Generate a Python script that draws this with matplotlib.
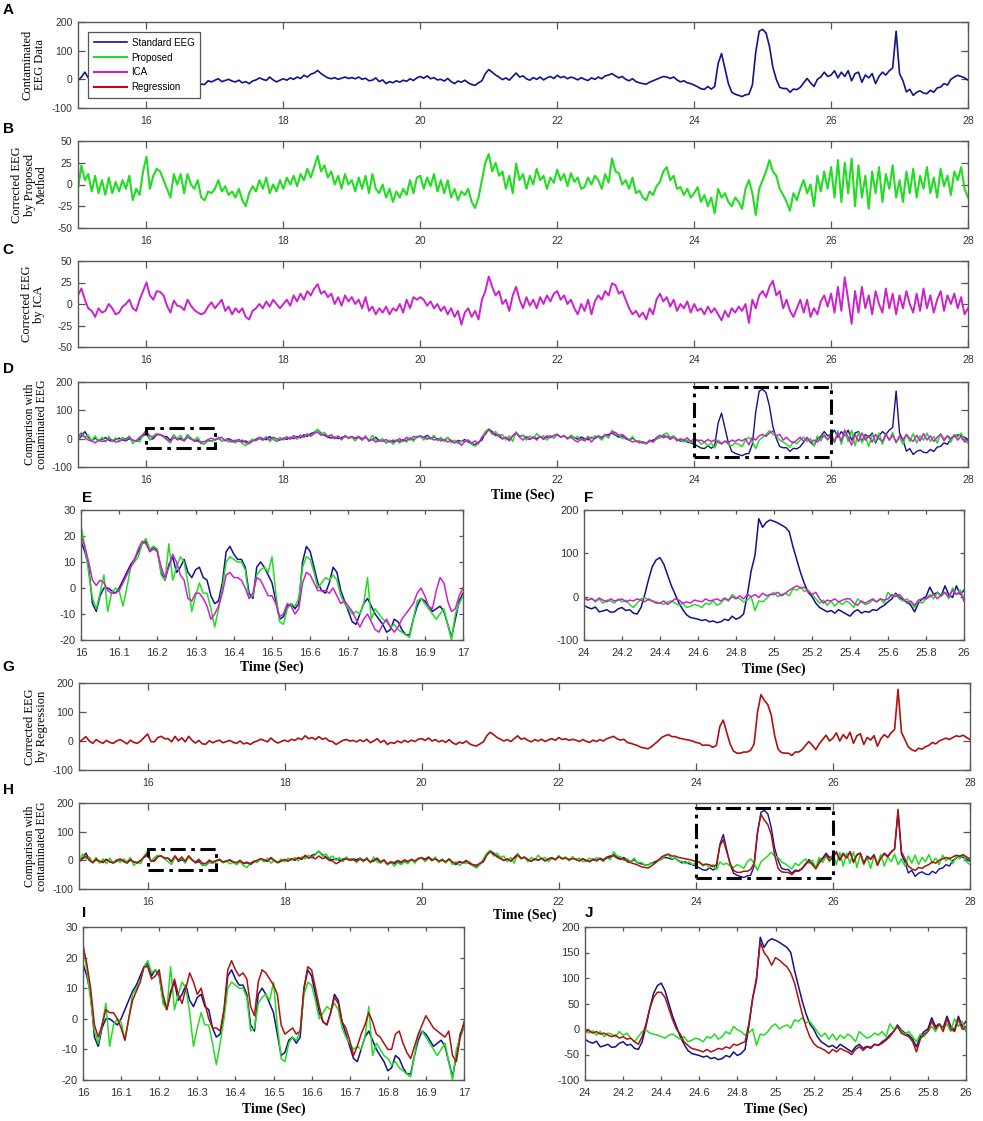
import numpy as np
import matplotlib.pyplot as plt
from matplotlib.patches import Rectangle

plt.rcParams['font.family'] = ['Liberation Sans', 'DejaVu Sans']
plt.rcParams['axes.unicode_minus'] = False

# ---- main traces, 15 s .. 28 s, one value every 0.05 s ----
t_main = np.round(np.arange(15, 28.001, 0.05), 2)

standard_eeg = [
    -3, 8, 25, 5, -8, 2, -6, -3, 4, -5, -10, -3, 2, -4, -8, 0, -6, -10, -2, 10,
    18, -3, 0, 14, 14, 6, 7, -6, 13, -4, 2, -6, 14, 2, -9, -4, -17, -18, -5, -9,
    -3, 2, -8, -4, 0, -6, -9, -3, -12, -8, -15, -6, -2, 5, 0, -4, 8, -2, -9, -3,
    2, -3, 5, 0, 8, 3, 14, 8, 18, 22, 31, 20, 12, 5, 2, 6, 0, 4, 8, 3,
    6, 2, 8, 0, 4, -5, -3, 5, -8, -2, -15, -8, -12, -5, -10, -3, -7, 2, -4, 5,
    10, 4, 12, 2, 6, -2, 0, -6, 3, -8, -15, -6, -10, -3, -12, -18, -21, -12, -5, 20,
    34, 25, 15, 8, -1, 5, -3, 10, 22, 8, 12, 2, -3, 6, 0, 8, -2, 5, 10, 3,
    14, 6, 10, 2, 8, 4, -2, 6, 0, -4, 5, 0, 8, 2, 12, 15, 20, 12, 5, 10,
    0, -5, 2, -8, -12, -15, -17, -10, -5, 0, 5, 10, 8, 3, 8, -2, -9, -5, -12, -15,
    -20, -26, -33, -35, -25, -34, -25, 55, 90, 38, -15, -45, -52, -56, -60, -54, -52, -20, 95, 168,
    174, 162, 115, 42, 0, -28, -32, -32, -45, -34, -36, -28, -12, 3, -12, -25, 0, 8, 25, 10,
    15, 30, 5, 25, 10, 30, -5, 20, 25, -10, 15, 5, 20, -15, 10, 25, 15, 30, 40, 168,
    20, -5, -44, -35, -56, -45, -40, -48, -50, -38, -45, -30, -27, -15, -20, 0, 8, 14, 10, 5,
    -3]

proposed = [
    -5, 22, 5, 12, -8, 10, -10, 5, -12, 8, -10, 3, -8, 5, -5, 10, -18, -5, -12, 15,
    32, -5, 10, 18, 15, 5, -5, -15, 12, 0, 12, -10, 12, 0, -5, 5, -15, -18, -8, -10,
    -5, 5, -8, -2, -12, -8, -15, -5, -18, -25, -10, -2, -8, 5, -5, 8, -10, 0, -8, 5,
    -5, 8, 0, 10, -2, 12, 5, 18, 8, 20, 33, 15, 22, 8, 15, 0, 10, -5, 12, 0,
    5, -8, 8, -5, 10, -10, 12, -5, -10, 0, -15, -5, -20, -8, -15, -5, -12, 5, -10, 8,
    10, -5, 8, -2, 12, -8, 5, -10, 5, -15, -5, -18, -8, -12, -5, -20, -27, -15, 5, 25,
    35, 15, 25, 10, 15, -5, 10, -10, 24, 5, 12, -5, 10, 0, 18, 5, 10, -5, 8, 2,
    17, 5, 12, -2, 13, 3, 8, -5, -3, 8, 0, 10, 5, -5, 12, 2, 30, 15, 13, 0,
    5, -5, 8, -10, -7, -15, -18, -8, -12, -2, 3, 15, 20, 5, 10, -5, -3, -12, -5, -15,
    -10, -3, -20, -12, -25, -15, -33, -5, -15, -10, -20, -25, -15, -20, -28, -5, 5, -10, -35, -5,
    5, 15, 28, 15, 10, -5, -12, -20, -30, -10, -18, -5, 5, -10, 0, -25, 10, -8, 15, -5,
    20, -15, 28, -20, 25, -10, 30, -25, 22, -15, 10, -28, 15, -10, 20, -20, 12, -5, 22, -15,
    5, -20, 15, -10, 18, -15, 10, -5, 20, -10, 8, -15, 18, -2, 10, -12, 15, 5, 20, -5,
    -15]

ica = [
    10, 18, 5, -5, -8, -15, -5, -10, -8, 0, -5, -12, -10, -3, 0, 5, -5, -8, 5, 15,
    25, 10, 5, 15, 14, 10, -2, -10, 4, -2, -3, -7, 5, -2, -7, -10, -12, -10, -3, 2,
    -5, 0, 5, -8, -3, -12, -5, -10, -5, -15, -18, -8, -5, 0, -5, 3, -3, 5, 0, -5,
    0, 5, -2, 10, 3, 12, 5, 15, 10, 18, 23, 12, 15, 8, 12, 0, 8, -2, 10, 3,
    8, 0, 5, -5, 8, -8, -3, -12, -5, -10, -3, -12, -5, -8, 0, -10, 5, -5, 8, 5,
    8, 5, -2, 3, -5, 0, -8, -3, -12, -5, -15, -8, -24, -10, -5, -15, -8, -18, 5, 15,
    32, 20, 10, 15, 0, 5, -8, 10, 20, 5, -5, 8, -2, 5, -5, 8, 0, 10, 3, 12,
    15, 5, 10, 0, 5, -5, -12, 0, -8, 5, -12, 3, 10, 5, 15, 10, 24, 22, 12, 15,
    5, -5, -12, -8, -15, -10, -18, -5, -12, 5, 12, 3, 8, -3, 5, -8, 0, -5, 3, -10,
    0, -8, -5, -12, -3, -10, -5, -12, -19, -8, -15, -5, -10, -3, -8, 0, -22, 5, -5, 10,
    15, 8, 20, 27, 10, 15, -5, 5, -8, -15, -5, 5, -10, 5, -15, -5, -12, 3, 10, -3,
    12, -10, 20, -8, 31, 5, -23, 15, -10, 20, -5, 10, -12, 15, 0, -10, 18, -5, 12, -12,
    10, -5, 15, 0, -10, 12, -8, 18, -5, 10, -10, 5, 15, -8, 10, 0, 12, -5, 8, -12,
    -5]

regression = [
    -5, 5, 15, 0, -8, 5, -3, -8, 2, -5, -8, 0, 5, -2, -10, 3, -5, -8, 0, 12,
    24, -2, -3, 12, 16, 8, 8, -3, 16, 1, 11, -3, 16, 2, -7, 2, -10, -11, 1, -6,
    -1, 3, -6, -2, 2, -5, -8, 0, -10, -6, -12, -4, 0, 6, 2, -3, 10, 0, -7, -2,
    3, -2, 6, 2, 10, 5, 18, 8, 12, 5, 15, 6, 10, 0, -2, -12, -5, 2, 5, 0,
    2, -3, 4, -2, 6, -6, 0, 8, -5, 2, -12, -5, -8, 0, -6, 2, -4, 3, -2, 6,
    8, 2, 10, 0, 5, -3, 2, -5, 5, -6, -12, -4, -8, 0, -10, -15, -17, -10, -3, 18,
    30, 22, 12, 6, 0, 5, -2, 8, 18, 6, 10, 2, -3, 5, 0, 6, -2, 4, 8, 2,
    12, 5, 8, 2, 6, 3, -2, 5, -1, -5, 3, -2, 5, 0, 8, 12, 16, 8, 3, 6,
    -5, -8, -12, -16, -22, -24, -27, -20, -10, 0, 12, 18, 22, 15, 15, 10, 8, 5, 3, 0,
    -5, -7, -15, -14, -15, -22, -15, 50, 72, 30, -10, -35, -42, -42, -38, -38, -32, -10, 100, 160,
    140, 125, 90, 18, -28, -40, -42, -42, -50, -38, -38, -30, -15, -2, -15, -30, -10, 5, 20, 0,
    10, 28, 0, 22, 8, 30, -8, 18, 25, -12, 12, 3, 18, -18, 8, 22, 12, 28, 40, 178,
    30, 5, -20, -30, -35, -25, -28, -20, -15, -5, -10, 0, 5, 10, 5, 12, 18, 15, 20, 12,
    5]

# ---- zoom 16 s .. 17 s, every 0.01 s ----
t_e = np.round(np.arange(16, 17.0001, 0.01), 2)
std_e = [18, 14, 8, -6, -9, -3, 0, 0, -1, -2,
         0, 3, 6, 9, 11, 14, 17, 18, 14, 16,
         14, 6, 3, 9, 12, 6, 8, 11, 6, 4,
         7, 8, 4, 3, -3, -6, -5, 2, 14, 16,
         13, 11, 11, 8, -2, -4, 8, 10, 8, 5,
         2, -5, -12, -11, -7, -6, -8, -6, 10, 16,
         14, 8, 2, -1, -2, 2, 8, 6, -1, -5,
         -9, -13, -14, -10, -6, -4, -7, -10, -12, -14,
         -17, -16, -12, -13, -16, -18, -18, -12, -7, -4,
         -5, -7, -9, -8, -7, -9, -14, -19, -12, -5,
         -2]
prop_e = [24, 16, 6, -4, -8, -2, 5, -9, -2, 0,
          -1, -7, 0, 8, 10, 12, 17, 19, 15, 16,
          15, 5, 3, 17, 3, 8, 12, 10, 2, -9,
          -3, 2, -2, -2, -8, -15, -8, 0, 10, 12,
          11, 10, 10, 7, -4, -3, 5, 7, 8, 6,
          12, -2, -13, -14, -8, -6, -7, -4, 8, 12,
          11, 6, 0, 2, 4, 3, 5, 3, -3, -6,
          -8, -10, -9, -10, -6, 4, -12, -8, -10, -12,
          -13, -15, -14, -16, -17, -18, -19, -12, -5, -4,
          -6, -8, -10, -12, -10, -8, -14, -20, -10, -6,
          -3]
ica_e = [20, 16, 10, 3, 1, 3, 2, -1, -2, -2,
         -1, 2, 5, 8, 11, 15, 18, 17, 14, 15,
         14, 8, 4, 8, 13, 10, 5, 3, -4, -5,
         -2, -2, -4, -7, -12, -10, -7, -2, 5, 6,
         4, 4, 3, 0, -4, -2, 4, 3, 0, -3,
         -3, -6, -11, -10, -6, -7, -10, -8, 2, 6,
         5, 2, -1, -1, -1, -2, 0, -3, -6, -5,
         -7, -9, -12, -15, -12, -10, -13, -16, -17, -14,
         -12, -15, -17, -15, -12, -10, -8, -6, -2, 0,
         -3, -7, -8, -1, 4, 2, -5, -9, -8, -3,
         0]
reg_e = [24, 18, 10, -2, -6, -2, 3, 2, 2, 0,
         -3, -7, 0, 6, 9, 12, 17, 17, 13, 14,
         16, 8, 3, 8, 13, 8, 5, 10, 15, 12,
         8, 10, 5, 0, -3, -3, -4, 3, 16, 19,
         16, 14, 15, 13, 4, 1, 12, 16, 15, 13,
         11, 8, -2, -5, -4, -3, -5, -4, 10, 17,
         16, 10, 4, -1, -2, 2, 7, 5, -1, -3,
         -7, -12, -9, -5, -2, 2, -1, -5, -6, -8,
         -10, -10, -5, -4, -8, -11, -13, -9, -5, -2,
         1, -1, -3, -4, -5, -6, -4, -12, -14, -6,
         -1]

# ---- zoom 24 s .. 26 s, every 0.02 s ----
t_f = np.round(np.arange(24, 26.0001, 0.02), 2)
std_f = [-20, -25, -28, -24, -35, -33, -30, -36, -35, -28,
         -25, -32, -30, -38, -40, -25, 5, 40, 70, 85,
         90, 75, 50, 25, 5, -15, -30, -42, -48, -50,
         -52, -55, -53, -58, -56, -60, -58, -52, -55, -45,
         -52, -48, -40, 5, 60, 95, 180, 160, 172, 177,
         174, 170, 165, 160, 150, 115, 85, 55, 30, 10,
         0, -15, -25, -30, -35, -32, -38, -30, -35, -40,
         -45, -35, -30, -38, -34, -36, -30, -32, -25, -20,
         -12, -5, 8, -2, -8, -12, -20, -35, -15, -5,
         0, 22, 5, 10, 2, 25, 5, -2, 25, 5,
         15]
prop_f = [-5, -8, -3, -12, -5, -15, -8, -10, -15, -5,
          -12, -8, -18, -25, -15, -5, -2, -8, -10, -12,
          -15, -18, -12, -10, -15, -20, -15, -25, -22, -18,
          -20, -25, -15, -18, -10, -20, -15, -5, -10, 5,
          -2, -5, -12, -8, 0, -32, -10, -12, -5, 5,
          10, 0, 5, 8, 2, 18, 15, 22, 12, 15,
          5, -5, -15, -8, -20, -10, -22, -12, -18, -10,
          -15, -25, -5, -12, -18, -15, -8, -12, -5, -15,
          10, 0, 5, -5, -10, -5, -15, -25, -10, -15,
          -5, 5, -5, 10, 0, 10, -5, 20, 5, 15,
          -5]
ica_f = [0, -8, -5, -10, -3, -8, -12, -5, -10, -8,
         -5, -12, -8, -10, -5, -8, -12, -5, -10, -15,
         -15, -10, -18, -12, -5, -8, -15, -12, -15, -8,
         -10, -12, -5, -10, -8, -5, -10, -3, -8, 0,
         -5, 2, -5, 5, 0, 5, -2, 8, 2, 5,
         5, 10, 2, 8, 15, 20, 25, 20, 22, 12,
         5, 10, -5, -15, -8, -10, -5, -12, -8, -5,
         -5, -15, -20, -10, -15, -10, -5, -12, -5, -8,
         -5, 5, 0, 5, -5, -15, -10, -20, -8, -5,
         -5, 0, 5, -5, 5, 10, 0, 15, 5, 10,
         -10]
reg_f = [-5, -3, -8, -5, -10, -8, -12, -15, -12, -18,
         -15, -20, -18, -25, -30, -15, 10, 40, 62, 72,
         72, 62, 40, 18, 0, -10, -25, -32, -38, -40,
         -42, -45, -40, -45, -42, -38, -40, -35, -38, -30,
         -32, -28, -25, 10, 60, 100, 170, 150, 140, 125,
         140, 135, 128, 122, 110, 90, 60, 30, 5, -15,
         -28, -35, -38, -42, -48, -40, -45, -38, -42, -45,
         -50, -40, -35, -42, -35, -38, -30, -32, -28, -22,
         -15, -5, 5, -8, -12, -15, -25, -45, -20, -10,
         -5, 15, 0, 10, -5, 20, 0, -5, 20, 0,
         5]

# zoomed windows marked in D and H: (t0, t1, y0, y1)
boxes_d = [(16, 17, -33, 37), (24, 26, -63, 182)]
boxes_h = [(16, 17, -35, 38), (24, 26, -62, 182)]

c_std = '#12128c'
c_prop = '#22dd22'
c_ica = '#cc22cc'
c_reg = '#b01010'

W, H = 983, 1121
fig = plt.figure(figsize=(W / 100, H / 100), dpi=100)


def place(l, t, r, b):
    return fig.add_axes([l / W, 1 - b / H, (r - l) / W, (b - t) / H])


def style(ax, xlim, ylim, xticks, yticks, ticklen, size):
    ax.set_xlim(xlim)
    ax.set_ylim(ylim)
    ax.set_xticks(xticks)
    ax.set_xticklabels([f"{v:g}" for v in xticks])
    ax.set_yticks(yticks)
    ax.tick_params(direction='in', top=True, right=True, length=ticklen,
                   width=0.9, color='#555555', labelcolor='#333333',
                   labelsize=size)
    ax.tick_params(axis='x', pad=6)
    ax.tick_params(axis='y', pad=4)
    for s in ax.spines.values():
        s.set_color('#5a5a5a')
        s.set_linewidth(1.0)


def ylab(ax, text, right_px, left_px, width_px, size=9):
    ax.set_ylabel(text, family='Liberation Serif', fontsize=size, linespacing=1.05)
    ax.yaxis.set_label_coords((right_px - left_px) / width_px, 0.5)


def xlab(ax, offset):
    ax.set_xlabel('Time (Sec)', family='Liberation Serif', fontsize=10,
                  fontweight='bold')
    ax.xaxis.set_label_coords(0.5, offset)


def draw_boxes(ax, boxes):
    for t0, t1, y0, y1 in boxes:
        ax.add_patch(Rectangle((t0, y0), t1 - t0, y1 - y0, fill=False,
                               ec='black', lw=2.2,
                               ls=(0, (5, 1.8, 1.2, 1.8)), zorder=5))


main_x = [16, 18, 20, 22, 24, 26, 28]
big_y = [-100, 0, 100, 200]
small_y = [-50, -25, 0, 25, 50]

# A
axA = place(78, 22, 968, 108)
axA.plot(t_main, standard_eeg, color=c_std, lw=1.2, label='Standard EEG')
axA.plot([], [], color=c_prop, lw=1.5, label='Proposed')
axA.plot([], [], color=c_ica, lw=1.5, label='ICA')
axA.plot([], [], color=c_reg, lw=1.5, label='Regression')
style(axA, (15, 28), (-100, 200), main_x, big_y, 5, 7.5)
ylab(axA, 'Contaminated\nEEG Data', 46, 78, 890)
leg = axA.legend(loc='upper left', bbox_to_anchor=(0.0116, 0.885),
                 borderaxespad=0, fontsize=7, handlelength=3.4,
                 handletextpad=0.45, labelspacing=0.5, borderpad=0.6,
                 fancybox=False, framealpha=1)
leg.get_frame().set_edgecolor('#555555')
leg.get_frame().set_linewidth(0.9)

# B
axB = place(78, 141, 968, 228)
axB.plot(t_main, proposed, color=c_prop, lw=1.5)
style(axB, (15, 28), (-50, 50), main_x, small_y, 5, 7.5)
ylab(axB, 'Corrected EEG\nby Proposed\nMethod', 48, 78, 890)

# C
axC = place(78, 261, 968, 347)
axC.plot(t_main, ica, color=c_ica, lw=1.4)
style(axC, (15, 28), (-50, 50), main_x, small_y, 5, 7.5)
ylab(axC, 'Corrected EEG\nby ICA', 45, 78, 890)

# D
axD = place(78, 382, 968, 467)
axD.plot(t_main, standard_eeg, color=c_std, lw=1.0)
axD.plot(t_main, proposed, color=c_prop, lw=1.1)
axD.plot(t_main, ica, color=c_ica, lw=1.1)
draw_boxes(axD, boxes_d)
style(axD, (15, 28), (-100, 200), main_x, big_y, 5, 7.5)
ylab(axD, 'Comparison with\ncontaminated EEG', 48, 78, 890, 8.5)
xlab(axD, -0.25)

# E
axE = place(81, 510, 463, 640)
axE.plot(t_e, std_e, color=c_std, lw=1.1)
axE.plot(t_e, prop_e, color=c_prop, lw=1.1)
axE.plot(t_e, ica_e, color=c_ica, lw=1.1)
style(axE, (16, 17), (-20, 30), list(np.round(np.arange(16, 17.01, 0.1), 1)),
      [-20, -10, 0, 10, 20, 30], 3, 8)
xlab(axE, -0.16)

# F
axF = place(584, 510, 964, 640)
axF.plot(t_f, std_f, color=c_std, lw=1.1)
axF.plot(t_f, prop_f, color=c_prop, lw=1.1)
axF.plot(t_f, ica_f, color=c_ica, lw=1.1)
style(axF, (24, 26), (-100, 200), list(np.round(np.arange(24, 26.01, 0.2), 1)),
      big_y, 3, 8)
xlab(axF, -0.17)

# G
axG = place(79, 683, 970, 770)
axG.plot(t_main, regression, color=c_reg, lw=1.2)
style(axG, (15, 28), (-100, 200), main_x, big_y, 5, 7.5)
ylab(axG, 'Corrected EEG\nby Regression', 48, 79, 891)

# H
axH = place(79, 803, 970, 889)
axH.plot(t_main, standard_eeg, color=c_std, lw=1.0)
axH.plot(t_main, proposed, color=c_prop, lw=1.1)
axH.plot(t_main, regression, color=c_reg, lw=1.1)
draw_boxes(axH, boxes_h)
style(axH, (15, 28), (-100, 200), main_x, big_y, 5, 7.5)
ylab(axH, 'Comparison with\ncontaminated EEG', 48, 79, 891, 8.5)
xlab(axH, -0.23)

# I
axI = place(83, 927, 464, 1080)
axI.plot(t_e, std_e, color=c_std, lw=1.1)
axI.plot(t_e, prop_e, color=c_prop, lw=1.1)
axI.plot(t_e, reg_e, color=c_reg, lw=1.1)
style(axI, (16, 17), (-20, 30), list(np.round(np.arange(16, 17.01, 0.1), 1)),
      [-20, -10, 0, 10, 20, 30], 3, 8)
xlab(axI, -0.145)

# J
axJ = place(585, 927, 966, 1080)
axJ.plot(t_f, std_f, color=c_std, lw=1.1)
axJ.plot(t_f, prop_f, color=c_prop, lw=1.1)
axJ.plot(t_f, reg_f, color=c_reg, lw=1.1)
style(axJ, (24, 26), (-100, 200), list(np.round(np.arange(24, 26.01, 0.2), 1)),
      [-100, -50, 0, 50, 100, 150, 200], 3, 8)
xlab(axJ, -0.15)

# panel letters
letters = [('A', 8, 10), ('B', 8, 129), ('C', 8, 250), ('D', 8, 369),
           ('E', 87, 498), ('F', 589, 498), ('G', 8, 667), ('H', 8, 790),
           ('I', 84, 913), ('J', 589, 913)]
for name, px, py in letters:
    fig.text(px / W, 1 - py / H, name, fontsize=11, fontweight='bold',
             ha='center', va='center')

fig.savefig('out.png', dpi=100)
